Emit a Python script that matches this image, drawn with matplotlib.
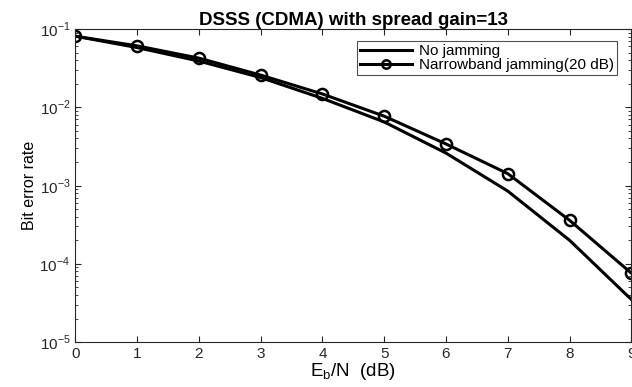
import matplotlib

matplotlib.use("Agg")
import matplotlib.pyplot as plt  # noqa: E402

plt.rcParams["font.family"] = ["Liberation Sans", "DejaVu Sans"]
plt.rcParams["mathtext.fontset"] = "custom"
plt.rcParams["mathtext.rm"] = "Liberation Sans"

# Eb/N in dB
ebn = [0, 1, 2, 3, 4, 5, 6, 7, 8, 9]
ber_no_jam = [0.081, 0.058, 0.039, 0.024, 0.013, 0.0065, 0.0026, 0.00085, 0.0002, 3.5e-5]
ber_nb_jam = [0.081, 0.061, 0.0425, 0.0258, 0.0148, 0.0077, 0.0034, 0.00142, 0.00036, 7.6e-5]
y_ticks = [1e-5, 1e-4, 1e-3, 1e-2, 1e-1]
y_ticklabels = [r"$10^{-5}$", r"$10^{-4}$", r"$10^{-3}$", r"$10^{-2}$", r"$10^{-1}$"]

fig = plt.figure(figsize=(6.32, 3.87), dpi=100)
ax = fig.add_axes([0.119, 0.116, 0.880, 0.809])

ax.semilogy(ebn, ber_no_jam, color="black", lw=2.2, label="No jamming")
ax.semilogy(ebn, ber_nb_jam, color="black", lw=2.2, marker="o", markersize=8,
            markerfacecolor="none", markeredgewidth=1.8,
            label="Narrowband jamming(20 dB)")

ax.set_xlim(0, 9)
ax.set_ylim(1e-5, 1e-1)
ax.set_xticks(ebn)
ax.set_yticks(y_ticks)
ax.set_yticklabels(y_ticklabels)
ax.tick_params(which="both", direction="in", top=True, right=True, labelsize=11,
               colors="#262626")
ax.tick_params(which="major", length=4)
ax.tick_params(which="minor", length=2)
for s in ax.spines.values():
    s.set_color("#262626")
    s.set_linewidth(0.8)

ax.set_title("DSSS (CDMA) with spread gain=13", fontsize=13.5, fontweight="bold", pad=3)
ax.set_xlabel(r"E$_\mathregular{b}$/N  (dB)", fontsize=13.5, labelpad=0)
ax.set_ylabel("Bit error rate", fontsize=11.5, labelpad=2)

leg = ax.legend(loc="upper right", bbox_to_anchor=(0.975, 0.962), fontsize=11,
                frameon=True, fancybox=False, edgecolor="#262626",
                handlelength=3.4, borderpad=0.2, labelspacing=0.0,
                handletextpad=0.5, borderaxespad=0.0)
leg.get_frame().set_linewidth(0.8)
leg.legend_handles[1].set_markersize(6)

fig.savefig("out.png", dpi=100)
